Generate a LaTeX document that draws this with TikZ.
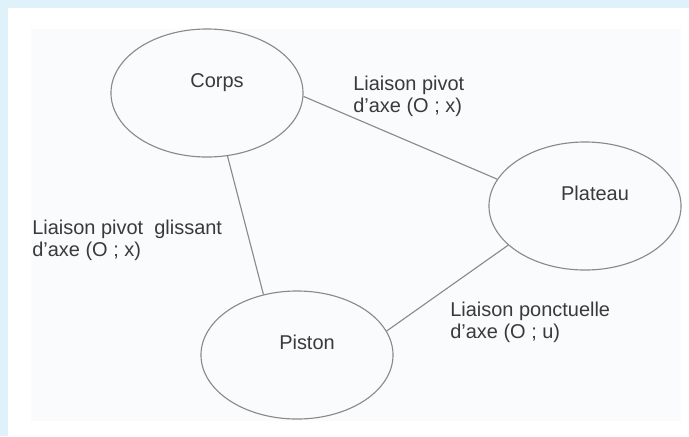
\documentclass[tikz,border=0pt]{standalone}
\usepackage{fontspec}
\setmainfont{Liberation Sans}
\usepackage{xcolor}
\usetikzlibrary{shapes,positioning}

\definecolor{frameblue}{HTML}{DFF2FA}
\definecolor{photo}{HTML}{FAFBFD}
\definecolor{edgegray}{HTML}{8A8A8A}
\definecolor{textgray}{HTML}{3A3A3A}

\begin{document}
\begin{tikzpicture}[
    x=0.025cm, y=-0.025cm,
    part/.style={ellipse, draw=edgegray, line width=0.8pt, minimum width=4.8cm, minimum height=3.2cm,
        text height=10pt, text depth=18pt, execute at begin node=\hspace*{0.5cm},
        font=\fontsize{14.2}{15.6}\selectfont, text=textgray},
    link/.style={draw=edgegray, line width=0.8pt},
    lbl/.style={anchor=north west, inner sep=0pt, align=left, font=\fontsize{14.2}{15.6}\selectfont, text=textgray}
]
    % Frame
    \fill[frameblue] (0,0) rectangle (689,436);
    \fill[white] (8,8) rectangle (689,436);
    \fill[photo] (31,29) rectangle (681,421);

    % Parts
    \node[part] (corps) at (207,93) {Corps};
    \node[part] (plateau) at (585,206) {Plateau};
    \node[part] (piston) at (297,355) {Piston};

    % Labels of the liaisons
    \node[lbl] (pivotlbl) at (353,76) {Liaison pivot\\d'axe (O ; x)};
    \node[lbl] (glissantlbl) at (32,220) {Liaison pivot\ \ glissant\\d'axe (O ; x)};
    \node[lbl] (ponctlbl) at (450,302) {Liaison ponctuelle\\d'axe (O ; u)};

    % Liaisons
    \draw[link] (corps.-2) -- (plateau.163);
    \draw[link] (corps.-72) -- (piston.119);
    \draw[link] (plateau.207) -- (piston.15);
\end{tikzpicture}
\end{document}
